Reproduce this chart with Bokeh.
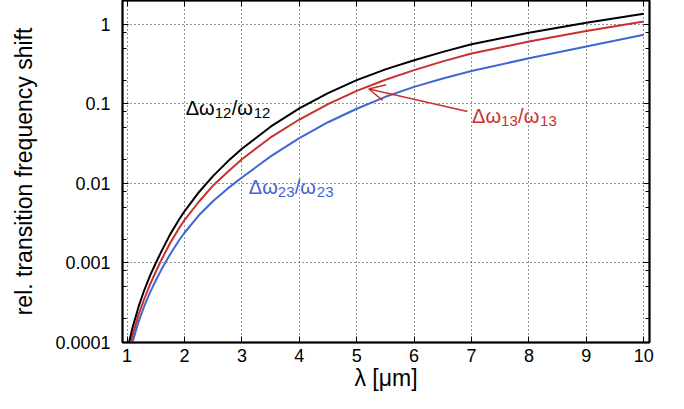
from bokeh.plotting import figure
from bokeh.models import FixedTicker, LogAxis, LinearAxis, Label, Arrow, OpenHead, Range1d
from bokeh.embed import file_html
from bokeh.resources import INLINE

# wavelength in micrometres
lam = [1.0, 1.05, 1.1, 1.2, 1.3, 1.4, 1.5, 1.6, 1.75, 1.9, 2.0, 2.25, 2.5, 2.75, 3.0,
       3.5, 4.0, 4.5, 5.0, 5.5, 6.0, 6.5, 7.0, 8.0, 9.0, 10.0]
# relative transition frequency shifts
shift_12 = [7.94e-5, 1.12e-4, 1.585e-4, 2.82e-4, 4.57e-4, 6.92e-4, 1.0e-3, 1.41e-3, 2.29e-3,
            3.47e-3, 4.47e-3, 7.76e-3, 0.01245, 0.01884, 0.0273, 0.0518, 0.0879, 0.137,
            0.1995, 0.272, 0.355, 0.452, 0.562, 0.785, 1.052, 1.361]
shift_13 = [6.46e-5, 9.12e-5, 1.26e-4, 2.24e-4, 3.55e-4, 5.37e-4, 7.76e-4, 1.10e-3, 1.78e-3,
            2.69e-3, 3.47e-3, 5.89e-3, 9.44e-3, 0.01396, 0.0202, 0.0379, 0.0637, 0.0993,
            0.1462, 0.2018, 0.266, 0.343, 0.4305, 0.6095, 0.826, 1.089]
shift_23 = [5.01e-5, 7.24e-5, 1.047e-4, 1.82e-4, 2.88e-4, 4.27e-4, 6.03e-4, 8.32e-4, 1.288e-3,
            1.905e-3, 2.40e-3, 3.98e-3, 6.03e-3, 8.61e-3, 0.01189, 0.02188, 0.03715, 0.0589,
            0.0871, 0.123, 0.164, 0.209, 0.26, 0.376, 0.528, 0.741]

x_ticks = [1, 2, 3, 4, 5, 6, 7, 8, 9, 10]
y_ticks = [1e-4, 1e-3, 1e-2, 1e-1, 1.0]
y_tick_labels = ["0.0001", "0.001", "0.01", "0.1", "1"]
y_minor = [m * 10.0 ** e for e in range(-4, 1) for m in (2, 5, 8)]

# annotation anchors (data coordinates)
label_12 = (2.02, 0.0896)
label_13 = (7.01, 0.0712)
label_23 = (3.12, 0.00904)
arrow_13 = (6.93, 0.0804, 5.21, 0.154)

BLACK = "#000000"
RED = "#c8312f"
BLUE = "#3f66d4"
FONT = "Liberation Sans"

p = figure(width=668, height=393, y_axis_type="log",
           x_range=Range1d(0.92, 10.1), y_range=Range1d(1e-4, 2),
           output_backend="svg", toolbar_location=None,
           min_border_left=122, min_border_right=19, min_border_top=0, min_border_bottom=50)

p.outline_line_color = "black"
p.outline_line_width = 2
p.background_fill_color = "white"
p.border_fill_color = "white"

xt = FixedTicker(ticks=x_ticks)
yt = FixedTicker(ticks=y_ticks, minor_ticks=y_minor)

def style_axis(ax, labels=True):
    ax.major_tick_in = 6
    ax.major_tick_out = 0
    ax.minor_tick_in = 4
    ax.minor_tick_out = 0
    ax.axis_line_color = "black"
    ax.axis_line_width = 1.5
    ax.major_tick_line_color = "black"
    ax.minor_tick_line_color = "black"
    ax.major_label_text_font = FONT
    ax.major_label_text_color = "black"
    ax.axis_label_text_font = FONT
    ax.axis_label_text_font_style = "normal"
    ax.axis_label_text_color = "black"
    if labels:
        ax.major_label_text_font_size = "18px"
        ax.axis_label_text_font_size = "23px"
    else:
        ax.major_label_text_font_size = "1px"
        ax.major_label_text_color = None
        ax.major_label_standoff = 0

xa = p.xaxis[0]
xa.ticker = xt
xa.axis_label = "λ [μm]"
xa.major_label_standoff = 6
xa.axis_label_standoff = 0
style_axis(xa)
xa.minor_tick_in = 0

ya = p.yaxis[0]
ya.ticker = yt
ya.axis_label = "rel. transition frequency shift"
ya.major_label_overrides = {t: s for t, s in zip(y_ticks, y_tick_labels)}
ya.major_label_standoff = 12
ya.axis_label_standoff = 15
style_axis(ya)

top = LinearAxis(ticker=FixedTicker(ticks=x_ticks))
style_axis(top, labels=False)
top.minor_tick_in = 0
p.add_layout(top, "above")

right = LogAxis(ticker=FixedTicker(ticks=y_ticks, minor_ticks=y_minor))
style_axis(right, labels=False)
p.add_layout(right, "right")

for g in (p.xgrid[0], p.ygrid[0]):
    g.grid_line_color = "black"
    g.grid_line_alpha = 0.85
    g.grid_line_dash = "1 3"
    g.grid_line_width = 1
p.xgrid[0].ticker = xt
p.ygrid[0].ticker = FixedTicker(ticks=y_ticks)

p.line(lam, shift_23, line_color=BLUE, line_width=2)
p.line(lam, shift_13, line_color=RED, line_width=2)
p.line(lam, shift_12, line_color=BLACK, line_width=2)

p.add_layout(Arrow(end=OpenHead(size=16, line_color=RED, line_width=1.5),
                   x_start=arrow_13[0], y_start=arrow_13[1],
                   x_end=arrow_13[2], y_end=arrow_13[3],
                   line_color=RED, line_width=1.5))

def formula(anchor, sub, color):
    x, y = anchor
    pieces = [("Δω", 0, 0, "20px"), (sub, 29, -5, "15px"),
              ("/ω", 46, 0, "20px"), (sub, 68, -5, "15px")]
    for txt, dx, dy, size in pieces:
        p.add_layout(Label(x=x, y=y, x_offset=dx, y_offset=dy, text=txt,
                           text_font=FONT, text_font_size=size, text_color=color,
                           text_align="left", text_baseline="alphabetic"))

formula(label_12, "12", BLACK)
formula(label_13, "13", RED)
formula(label_23, "23", BLUE)

open("out.html", "w").write(file_html(p, INLINE))
